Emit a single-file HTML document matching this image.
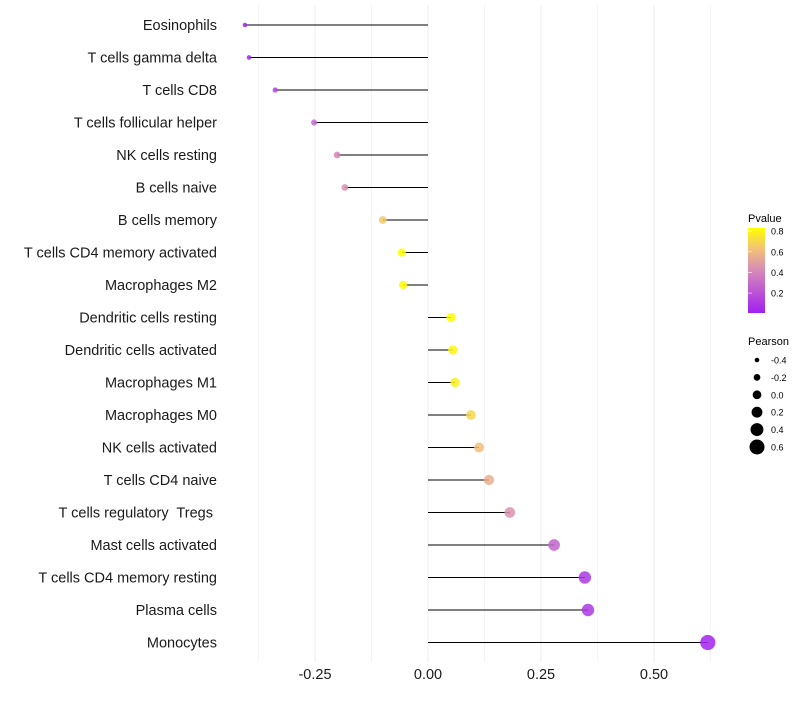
<!DOCTYPE html>
<html><head><meta charset="utf-8"><style>
body{margin:0;background:#fff;font-family:"Liberation Sans",sans-serif}
text{white-space:pre}
</style></head><body>
<svg id="chart" width="800" height="700" xmlns="http://www.w3.org/2000/svg">
<defs><linearGradient id="pg" x1="0" y1="1" x2="0" y2="0">
<stop offset="0" stop-color="#a020f0"/><stop offset="0.5" stop-color="#d68ab8"/><stop offset="0.75" stop-color="#f2c07a"/><stop offset="1" stop-color="#ffff00"/></linearGradient></defs>
<g id="grid"></g><g id="marks"></g><g id="labels"></g><g id="legend"></g>
</svg>
<script>
const categories=["Eosinophils","T cells gamma delta","T cells CD8","T cells follicular helper","NK cells resting","B cells naive","B cells memory","T cells CD4 memory activated","Macrophages M2","Dendritic cells resting","Dendritic cells activated","Macrophages M1","Macrophages M0","NK cells activated","T cells CD4 naive","T cells regulatory  Tregs ","Mast cells activated","T cells CD4 memory resting","Plasma cells","Monocytes"];
const pearson=[-0.405,-0.396,-0.338,-0.252,-0.201,-0.184,-0.1,-0.058,-0.055,0.051,0.055,0.06,0.095,0.113,0.135,0.181,0.279,0.347,0.354,0.619];
const pvalue=[0.03,0.04,0.15,0.3,0.4,0.45,0.65,0.83,0.83,0.83,0.8,0.78,0.7,0.62,0.56,0.45,0.27,0.1,0.1,0.02];
const xTicks=[-0.25,0,0.25,0.5];
const xTickLabels=["-0.25","0.00","0.25","0.50"];
const legendP=[0.8,0.6,0.4,0.2];
const legendR=[-0.4,-0.2,0.0,0.2,0.4,0.6];
const NS="http://www.w3.org/2000/svg";
const x=v=>428+452*v;
const y=i=>25+i*32.5;
const rad=v=>2.2+(v+0.42)*5.2;
const pMin=0.007,pMax=0.83;
function lerp(a,b,t){return a+(b-a)*t}
const stops=[[0,[160,32,240]],[0.5,[214,138,184]],[0.75,[242,192,122]],[1,[255,255,0]]];
function pcol(p){let t=Math.max(0,Math.min(1,(p-pMin)/(pMax-pMin)));for(let k=1;k<stops.length;k++){if(t<=stops[k][0]){const[a,ca]=stops[k-1],[b,cb]=stops[k];const u=(t-a)/(b-a);return`rgb(${ca.map((c,j)=>Math.round(lerp(c,cb[j],u))).join(",")})`}}return"rgb(255,255,0)"}
function mk(tag,attrs,parent){const e=document.createElementNS(NS,tag);for(const k in attrs)e.setAttribute(k,attrs[k]);parent.appendChild(e);return e}
const grid=document.getElementById("grid"),marks=document.getElementById("marks"),labels=document.getElementById("labels"),legend=document.getElementById("legend");
for(let v=-0.375;v<=0.625;v+=0.125){const g=mk("line",{x1:x(v),x2:x(v),y1:5,y2:662,stroke:"#ededed","stroke-width":Math.abs((v/0.25)-Math.round(v/0.25))<1e-6?1:0.6},grid);

}
categories.forEach((c,i)=>{
const l=mk("line",{x1:x(0),x2:x(pearson[i]),y1:y(i),y2:y(i),stroke:"#000","stroke-width":1},marks);


const d=mk("circle",{cx:x(pearson[i]),cy:y(i),r:rad(pearson[i]),fill:pcol(pvalue[i]),"fill-opacity":0.85},marks);


const t=mk("text",{x:217,y:y(i)+5,"text-anchor":"end","font-size":14.5,fill:"#1a1a1a"},labels);t.textContent=c;


});
xTicks.forEach((v,i)=>{const t=mk("text",{x:x(v),y:679,"text-anchor":"middle","font-size":14.5,fill:"#1a1a1a"},labels);t.textContent=xTickLabels[i];

});
let t=mk("text",{x:748,y:222,"font-size":11},legend);t.textContent="Pvalue";


const bar=mk("rect",{x:748,y:228,width:17,height:85,fill:"url(#pg)"},legend);


const py=p=>313-(p-pMin)/(pMax-pMin)*85;
legendP.forEach(p=>{const tt=mk("text",{x:771,y:py(p)+3.5,"font-size":9},legend);tt.textContent=p.toFixed(1);


const tk=mk("line",{x1:748,x2:752,y1:py(p),y2:py(p),stroke:"#fff","stroke-width":0.6},legend);

});
t=mk("text",{x:748,y:345,"font-size":11},legend);t.textContent="Pearson";


legendR.forEach((r,i)=>{const yy=360+i*17.4;
const c=mk("circle",{cx:757,cy:yy,r:rad(r),fill:"#000"},legend);


const tt=mk("text",{x:771,y:yy+3.5,"font-size":9},legend);tt.textContent=r.toFixed(1);

});
</script>
</body></html>
